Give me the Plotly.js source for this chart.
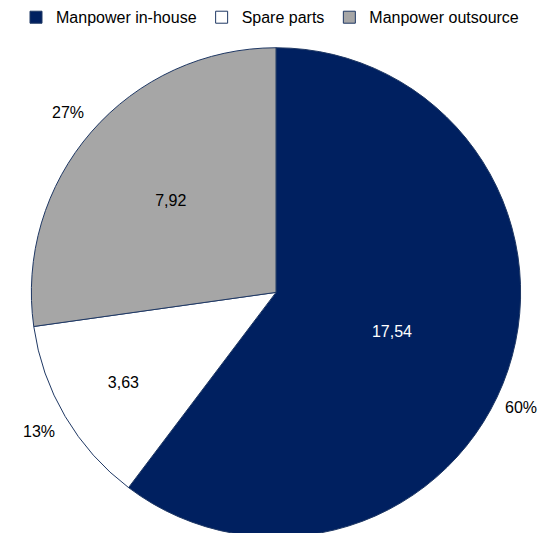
<!DOCTYPE html>
<html><head><meta charset="utf-8">
<script src="https://cdn.plot.ly/plotly-3.0.1.min.js"></script>
<style>html,body{margin:0;padding:0;overflow:hidden;background:#fff}</style>
</head><body>
<div id="chart" style="width:540px;height:540px"></div>
<script>
const categories = ["Manpower in-house", "Spare parts", "Manpower outsource"];
const values = [17.54, 3.63, 7.92];
const percentLabels = ["60%", "13%", "27%"];
const colors = ["#002060", "#FFFFFF", "#A6A6A6"];

const valueText = values.map(v => v.toFixed(2).replace('.', ','));
const W = 540, H = 540;
const dom = {x: [30/W, 522/W], y: [3/H, 495/H]};
const FONT = 'Liberation Sans, Arial, sans-serif';

const pie = {
  type: 'pie', labels: categories, values: values, sort: false,
  direction: 'clockwise', rotation: 0, domain: dom,
  marker: {colors: colors, line: {color: '#1F3864', width: 1}},
  text: valueText, textinfo: 'text', textposition: 'inside',
  insidetextorientation: 'horizontal',
  insidetextfont: {color: ['#FFFFFF', '#000000', '#000000'], size: 16, family: FONT},
  hoverinfo: 'label+value', showlegend: true
};

// Percentage labels placed outside each slice, near the slice's mid angle
const total = values.reduce((a, b) => a + b, 0);
const cxPx = (dom.x[0] + dom.x[1]) / 2 * W;
const cyPx = (1 - (dom.y[0] + dom.y[1]) / 2) * H;
const rPx = (dom.x[1] - dom.x[0]) * W / 2;
const halfW = 17;
let cum = 0;
const annotations = values.map((v, i) => {
  const mid = (cum + v / 2) / total * 2 * Math.PI; cum += v;
  let px = cxPx + Math.sin(mid) * rPx * 1.12;
  let py = cyPx - Math.cos(mid) * rPx * 1.12;
  const maxX = W - halfW - 2, minX = halfW + 6;
  if (px > maxX || px < minX) {
    px = Math.max(minX, Math.min(maxX, px));
    const inner = px > cxPx ? px - halfW - 6 : px + halfW + 6;
    const dx = inner - cxPx;
    const dy = Math.sqrt(Math.max(0, rPx * rPx - dx * dx)) + 10;
    py = cyPx + (Math.cos(mid) < 0 ? dy : -dy);
  }
  return {x: px / W, y: 1 - py / H, xref: 'paper', yref: 'paper',
    text: percentLabels[i], showarrow: false, xanchor: 'center', yanchor: 'middle',
    font: {size: 16, family: FONT, color: '#000'}};
});

const layout = {
  width: W, height: H,
  margin: {l: 0, r: 0, t: 0, b: 0},
  paper_bgcolor: '#fff',
  showlegend: true,
  annotations: annotations,
  legend: {orientation: 'h', x: 0.5, xanchor: 'center', y: 1.005, yanchor: 'top',
    font: {size: 16, family: FONT, color: '#000'},
    traceorder: 'normal', itemwidth: 30}
};
Plotly.newPlot('chart', [pie], layout, {displayModeBar: false});
</script>
</body></html>
